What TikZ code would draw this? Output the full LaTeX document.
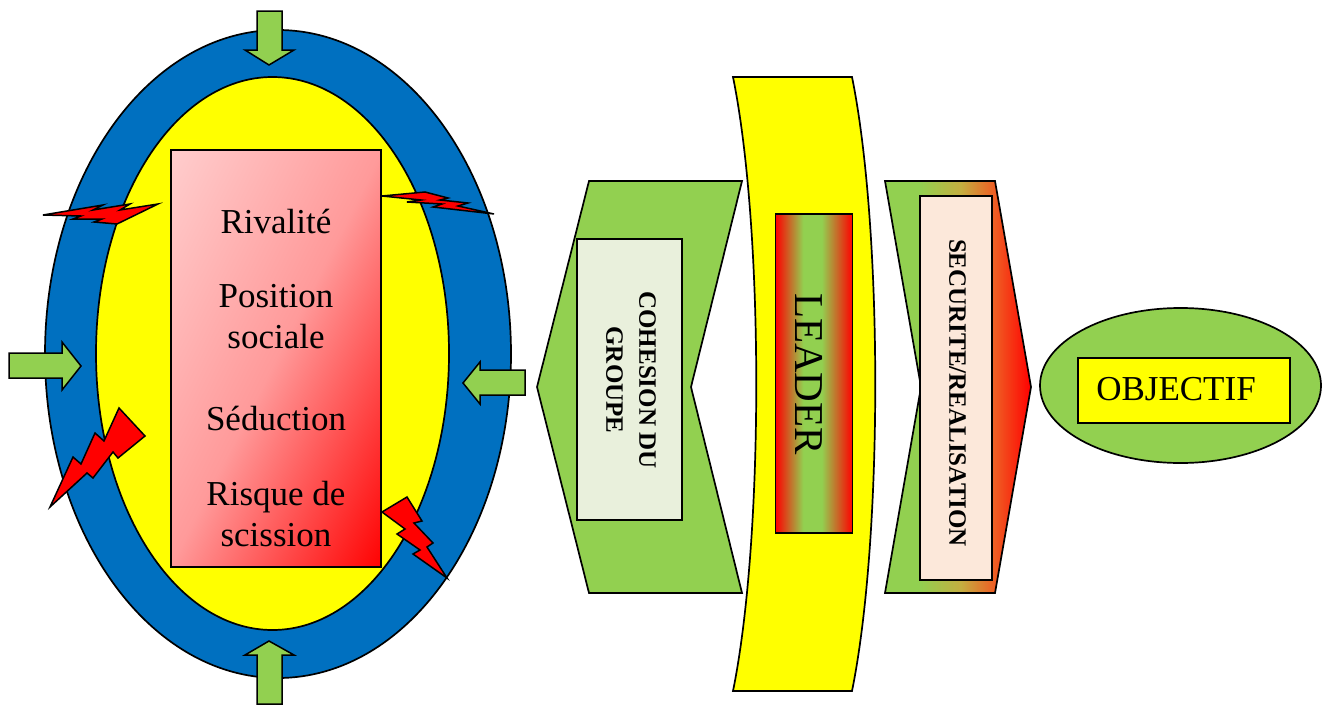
\documentclass[tikz,border=0pt]{standalone}
\usepackage{fontspec}
\setmainfont{Liberation Serif}
\definecolor{grn}{HTML}{92D050}
\definecolor{blu}{HTML}{0070C0}
\definecolor{pnk}{HTML}{FFCCCC}
\definecolor{crm}{HTML}{E9F0DC}
\definecolor{pch}{HTML}{FCE8DA}
\definecolor{ylw}{rgb}{1,1,0}
\definecolor{rd}{rgb}{1,0,0}
\definecolor{mid1}{HTML}{C4AE40}
\definecolor{mid2}{HTML}{F05A22}
\definecolor{mid3}{HTML}{FF9A9A}
\pgfdeclarehorizontalshading{grnred}{100bp}{color(0bp)=(grn); color(37bp)=(grn); color(51bp)=(mid1); color(63bp)=(mid2); color(75bp)=(rd); color(100bp)=(rd)}
\pgfdeclarehorizontalshading{coreshade}{100bp}{color(0bp)=(pnk); color(17bp)=(pnk); color(50bp)=(mid3); color(84bp)=(rd); color(100bp)=(rd)}
\pgfdeclarehorizontalshading{leadshade}{100bp}{color(0bp)=(rd); color(25bp)=(rd); color(43bp)=(grn); color(55bp)=(grn); color(75bp)=(rd); color(100bp)=(rd)}
\tikzset{
 outl/.style={draw=black,line width=1.7pt,line join=miter},
 arrowg/.style={outl,fill=grn,line width=1.5pt},
 bolt/.style={draw=black,line width=1.5pt,fill=rd,line join=miter},
 lab/.style={font=\fontsize{35}{41}\selectfont,align=center,inner sep=0pt},
 vlab/.style={font=\bfseries\fontsize{25}{33}\selectfont,align=center,inner sep=0pt,rotate=-90},
}
\begin{document}
\begin{tikzpicture}[x=1pt,y=-1pt]
\useasboundingbox (0,0) rectangle (1325,704);
% ellipses
\draw[outl,fill=blu] (278,354) ellipse [x radius=233,y radius=324];
\draw[outl,fill=ylw] (272.5,353.5) ellipse [x radius=176.5,y radius=276.5];
\node[outl,inner sep=0pt,minimum width=210pt,minimum height=417pt,shading=coreshade,shading angle=-27] (core) at (276,358.5) {};
\node[lab] (t1) at (276,221) {Rivalité};
\node[lab] (t2) at (276,317) {Position\\sociale};
\node[lab] (t3) at (276,418) {Séduction};
\node[lab] (t4) at (276,514) {Risque de\\scission};
% arrows
\draw[arrowg] (257,11) -- (282,11) -- (282,50) -- (294,50) -- (269,65) -- (245,50) -- (257,50) -- cycle;
\draw[arrowg] (257,704) -- (257,655) -- (245,655) -- (269,641) -- (294,655) -- (282,655) -- (282,704) -- cycle;
\draw[arrowg] (9,353) -- (62,353) -- (62,342) -- (81,366) -- (62,390) -- (62,378) -- (9,378) -- cycle;
\draw[arrowg] (525,370) -- (480,370) -- (480,362) -- (463,383) -- (480,404) -- (480,395) -- (525,395) -- cycle;
% bolts
\draw[bolt] (43,215) -- (103,205) -- (93,210) -- (130,204) -- (120,210) -- (158,204) -- (117,224) -- (94,222) -- (102,219) -- (73,219) -- (81,216) -- cycle;
\draw[bolt] (382,196) -- (425,192) -- (448,198) -- (440,200) -- (468,203) -- (458,206) -- (494,214) -- (433,207) -- (442,204) -- (407,202) -- (421,200) -- cycle;
\draw[bolt] (50,507) -- (73,457) -- (81,464) -- (95,433) -- (104,441) -- (119,408) -- (145,436) -- (118,458) -- (113,452) -- (93,478) -- (87,473) -- cycle;
\draw[bolt] (382,512) -- (407,497) -- (422,521) -- (414,523) -- (433,543) -- (427,547) -- (447,578) -- (413,554) -- (420,550) -- (397,534) -- (405,529) -- cycle;
% cohesion
\draw[outl,fill=grn] (589,181) -- (742,181) -- (691,387) -- (742,593) -- (589,593) -- (537,387) -- cycle;
\node[outl,fill=crm,inner sep=0pt,minimum width=105pt,minimum height=281pt] (coh) at (629.5,379.5) {};
\node[vlab] (coht) at (631,380) {COHESION DU\\GROUPE};
% leader
\draw[outl,fill=ylw] (733,77) -- (852,77) .. controls (883,230) and (883,538) .. (852,691) -- (733,691) .. controls (764,538) and (764,230) .. (733,77) -- cycle;
\node[outl,inner sep=0pt,minimum width=77pt,minimum height=319pt,shading=leadshade] (lead) at (814,373.5) {};
\node[lab,rotate=-90,font=\fontsize{41}{44}\selectfont] (leadt) at (809,374) {LEADER};
% securite
\draw[outl,shading=grnred] (885,181) -- (995,181) -- (1031,387) -- (995,593) -- (885,593) -- (921,387) -- cycle;
\node[outl,fill=pch,inner sep=0pt,minimum width=72pt,minimum height=384pt] (sec) at (956,388) {};
\node[vlab] (sect) at (957.5,393) {SECURITE/REALISATION};
% objectif
\draw[outl,fill=grn] (1180.5,385.5) ellipse [x radius=140.5,y radius=77.5];
\node[outl,fill=ylw,inner sep=0pt,minimum width=212pt,minimum height=65pt] (obj) at (1184,390.5) {};
\node[lab] (objt) at (1176,389) {OBJECTIF};
\end{tikzpicture}
\end{document}
